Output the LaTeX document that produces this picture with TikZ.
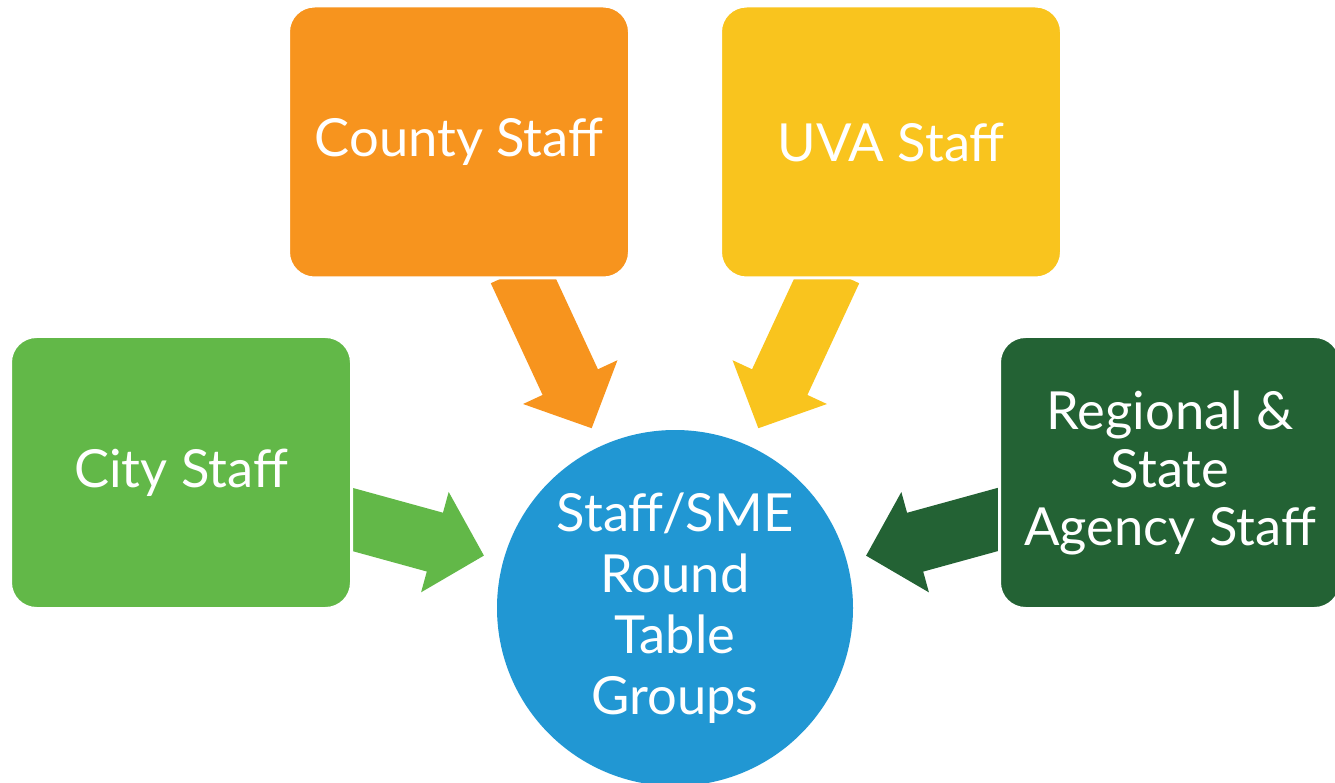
\documentclass[tikz,border=0pt]{standalone}
\usepackage{fontspec}
\setmainfont{Lato}
\usepackage{xcolor}
\definecolor{citygreen}{RGB}{98,184,72}
\definecolor{countyorange}{RGB}{247,148,30}
\definecolor{uvayellow}{RGB}{249,196,30}
\definecolor{agencygreen}{RGB}{35,98,52}
\definecolor{tableblue}{RGB}{33,151,211}
\usetikzlibrary{arrows.meta}
\usetikzlibrary{backgrounds}
\tikzset{
    group/.style={draw=white, line width=3pt, rounded corners=26pt, inner sep=0pt,
        minimum width=341pt, minimum height=272pt, align=center, text=white,
        font=\fontsize{52.5}{58}\selectfont},
    roundtable/.style={circle, inner sep=0pt, outer sep=0pt, minimum size=356pt,
        align=center, text=white, font=\fontsize{52.5}{61}\selectfont},
    feed/.style={line width=61pt, -{Triangle[length=51pt, width=101pt]},
        shorten >=20pt, shorten <=-10pt}
}

\begin{document}
\begin{tikzpicture}[x=1pt, y=-1pt]
    \useasboundingbox (0,0) rectangle (1335,783);

    \node[group, fill=citygreen] (city) at (181,472.5) {City Staff};
    \node[group, fill=countyorange] (county) at (459,142) {County Staff};
    \node[group, fill=uvayellow] (uva) at (891,142) {UVA Staff};
    \node[group, fill=agencygreen] (agency) at (1170,472.5) {Regional \&\\State\\Agency Staff};
    \node[roundtable, fill=tableblue] (table) at (675,608) {Staff/SME\\Round\\Table\\Groups};

    \begin{scope}[on background layer]
        \draw[feed, citygreen] (city) -- (table);
        \draw[feed, countyorange] (county) -- (table);
        \draw[feed, uvayellow] (uva) -- (table);
        \draw[feed, agencygreen] (agency) -- (table);
    \end{scope}
\end{tikzpicture}
\end{document}
